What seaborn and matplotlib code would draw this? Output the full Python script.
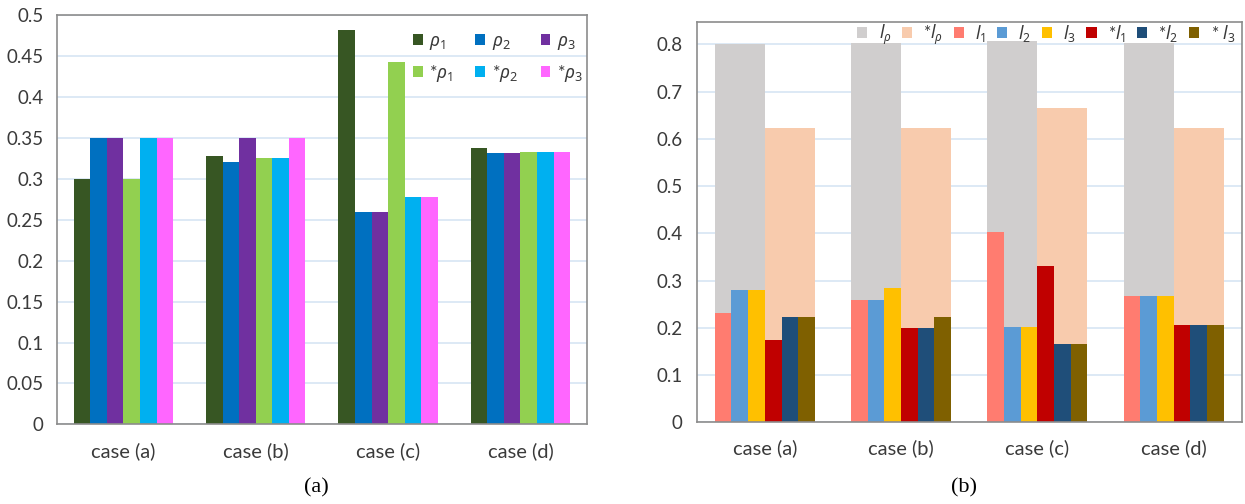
import numpy as np
import pandas as pd
import seaborn as sns
import matplotlib.pyplot as plt
from matplotlib.patches import Patch

# ---- data -------------------------------------------------------------
cases = ["case (a)", "case (b)", "case (c)", "case (d)"]

# panel (a): weights per case
rho_keys = ["rho1", "rho2", "rho3", "rho1s", "rho2s", "rho3s"]
rho_labels = [r"$\rho_1$", r"$\rho_2$", r"$\rho_3$",
              r"*$\rho_1$", r"*$\rho_2$", r"*$\rho_3$"]
rho1 = [0.300, 0.328, 0.482, 0.338]
rho2 = [0.350, 0.321, 0.259, 0.331]
rho3 = [0.350, 0.350, 0.259, 0.331]
rho1_s = [0.300, 0.325, 0.443, 0.333]
rho2_s = [0.350, 0.325, 0.278, 0.333]
rho3_s = [0.350, 0.350, 0.278, 0.333]
rho_colors = ["#375623", "#0070c0", "#7030a0", "#92d050", "#00b0f0", "#ff66ff"]
yticks_a = [0, 0.05, 0.1, 0.15, 0.2, 0.25, 0.3, 0.35, 0.4, 0.45, 0.5]

# panel (b): totals and per-component values
tot_keys = ["lp", "lps"]
tot_labels = [r"$l_\rho$", r"*$l_\rho$"]
l_rho = [0.800, 0.803, 0.808, 0.803]
l_rho_s = [0.624, 0.624, 0.665, 0.624]
tot_colors = ["#d0cece", "#f8cbad"]

comp_keys = ["l1", "l2", "l3", "l1s", "l2s", "l3s"]
comp_labels = [r"$l_1$", r"$l_2$", r"$l_3$", r"*$l_1$", r"*$l_2$", r"* $l_3$"]
l1 = [0.231, 0.259, 0.404, 0.267]
l2 = [0.281, 0.259, 0.202, 0.267]
l3 = [0.281, 0.285, 0.202, 0.267]
l1_s = [0.174, 0.200, 0.332, 0.207]
l2_s = [0.223, 0.200, 0.165, 0.207]
l3_s = [0.223, 0.223, 0.165, 0.207]
comp_colors = ["#ff7c70", "#5b9bd5", "#ffc000", "#c00000", "#1f4e79", "#7f6000"]
yticks_b = [0, 0.1, 0.2, 0.3, 0.4, 0.5, 0.6, 0.7, 0.8]


def long_frame(keys, columns):
    rows = []
    for key, vals in zip(keys, columns):
        for case, v in zip(cases, vals):
            rows.append({"case": case, "series": key, "value": v})
    return pd.DataFrame(rows)


df_a = long_frame(rho_keys, [rho1, rho2, rho3, rho1_s, rho2_s, rho3_s])
df_tot = long_frame(tot_keys, [l_rho, l_rho_s])
df_comp = long_frame(comp_keys, [l1, l2, l3, l1_s, l2_s, l3_s])

# ---- style ------------------------------------------------------------
sns.set_theme(style="white")
plt.rcParams["font.family"] = ["Lato", "DejaVu Sans"]
plt.rcParams["mathtext.fontset"] = "custom"
plt.rcParams["mathtext.it"] = "Noto Sans:italic"
plt.rcParams["mathtext.rm"] = "Noto Sans"

TXT = "#3a3a3a"
SPINE = "#8c8c8c"
GRID = "#dae7f5"

fig = plt.figure(figsize=(12.45, 5.04), dpi=100)
ax1 = fig.add_axes([0.046, 0.158, 0.4252, 0.8121])
ax2 = fig.add_axes([0.5596, 0.162, 0.4378, 0.7948])


def style_axes(ax, yticks, ylim, xpad):
    ax.set_ylim(*ylim)
    ax.set_yticks(yticks)
    ax.set_yticklabels([f"{t:g}" for t in yticks])
    ax.yaxis.grid(True, color=GRID, linewidth=1.3)
    ax.xaxis.grid(False)
    ax.set_axisbelow(True)
    for s in ax.spines.values():
        s.set_visible(True)
        s.set_color(SPINE)
        s.set_linewidth(1.2)
    ax.tick_params(axis="y", length=0, pad=10, labelsize=13.5, labelcolor=TXT)
    ax.tick_params(axis="x", length=0, pad=xpad, labelsize=14.5, labelcolor=TXT)
    ax.set_xlabel("")
    ax.set_ylabel("")


# ---- panel (a) --------------------------------------------------------
sns.barplot(data=df_a, x="case", y="value", hue="series", hue_order=rho_keys,
            palette=rho_colors, width=0.75, saturation=1, errorbar=None,
            linewidth=0, legend=False, ax=ax1)
style_axes(ax1, yticks_a, (0, 0.5), 13)
ax1.set_xlim(-0.5, 3.5)

order = [0, 3, 1, 4, 2, 5]
handles_a = [Patch(facecolor=rho_colors[i], edgecolor="none") for i in order]
ax1.legend(handles_a, [rho_labels[i] for i in order], ncol=3,
           loc="upper right", bbox_to_anchor=(0.993, 0.957), frameon=False,
           borderpad=0, borderaxespad=0,
           handlelength=0.55, handleheight=0.55, handletextpad=0.35,
           columnspacing=1.25, labelspacing=0.6, fontsize=13,
           labelcolor=TXT)

# ---- panel (b) --------------------------------------------------------
sns.barplot(data=df_tot, x="case", y="value", hue="series", hue_order=tot_keys,
            palette=tot_colors, width=0.734, saturation=1, errorbar=None,
            linewidth=0, legend=False, ax=ax2)
sns.barplot(data=df_comp, x="case", y="value", hue="series", hue_order=comp_keys,
            palette=comp_colors, width=0.734, saturation=1, errorbar=None,
            linewidth=0, legend=False, ax=ax2)
style_axes(ax2, yticks_b, (0, 0.848), 12)
ax2.set_xlim(-0.5, 3.5)

handles_b = [Patch(facecolor=c, edgecolor="none") for c in tot_colors + comp_colors]
ax2.legend(handles_b, tot_labels + comp_labels, ncol=8,
           loc="upper right", bbox_to_anchor=(0.988, 0.998), frameon=False,
           borderpad=0, borderaxespad=0,
           handlelength=0.6, handleheight=0.6, handletextpad=0.65,
           columnspacing=0.6, fontsize=12.5, labelcolor=TXT)

# ---- captions ---------------------------------------------------------
fig.text(0.254, 0.033, "(a)", family="Liberation Serif", fontsize=16,
         ha="center", va="center", color="black")
fig.text(0.774, 0.033, "(b)", family="Liberation Serif", fontsize=16,
         ha="center", va="center", color="black")

fig.savefig("out.png", dpi=100)
